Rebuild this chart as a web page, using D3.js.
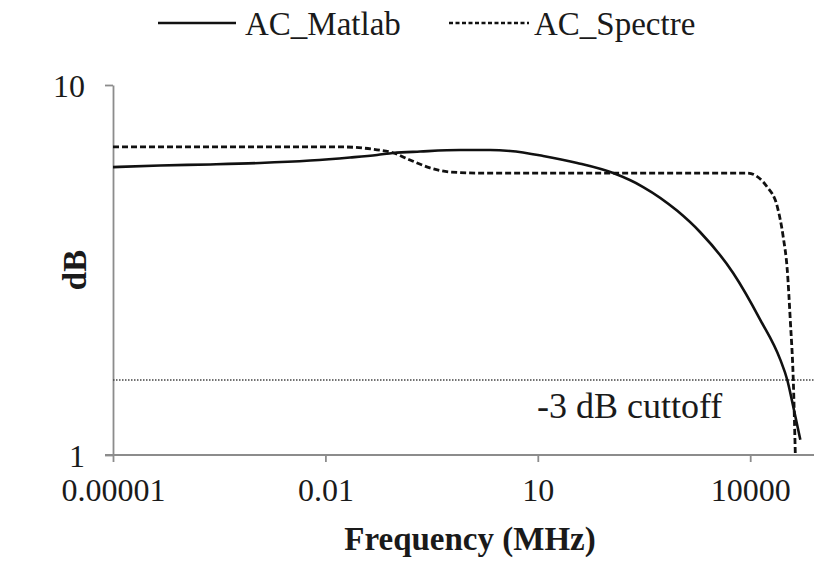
<!DOCTYPE html>
<html>
<head>
<meta charset="utf-8">
<script src="https://cdn.jsdelivr.net/npm/d3@7"></script>
<style>
  body { margin: 0; background: #fff; }
  text { font-family: "Liberation Serif", "Times New Roman", serif; fill: #1a1a1a; }
</style>
</head>
<body>
<div id="container"></div>
<script>
// frequency in MHz, gain in dB
const matlabFreq = [1e-5, 4.61e-5, 2.35e-4, 1.19e-3, 6.08e-3, 0.0223, 0.0537, 0.0903, 0.218, 0.8, 2.12, 4.07, 11.9, 36, 116, 308, 933, 1970, 5770, 13870, 26600, 33400, 40600, 51000];
const matlabGain = [6.00, 6.06, 6.10, 6.155, 6.25, 6.37, 6.47, 6.55, 6.61, 6.67, 6.67, 6.63, 6.43, 6.155, 5.78, 5.30, 4.57, 4.00, 3.10, 2.32, 1.81, 1.595, 1.35, 1.10];

const spectreFreq = [1e-5, 0.0178, 0.0537, 0.0875, 0.157, 0.30, 0.58, 1.53, 10, 100, 1000, 5000, 9100, 17400, 24200, 29300, 33400, 36800, 40600, 43350];
const spectreGain = [6.80, 6.80, 6.68, 6.57, 6.27, 5.97, 5.82, 5.78, 5.78, 5.78, 5.78, 5.78, 5.78, 5.30, 4.68, 3.88, 3.16, 2.32, 1.595, 1.01];

const cutoff = 1.595;
const xTicks = [1e-5, 0.01, 10, 10000];
const xTickLabels = ["0.00001", "0.01", "10", "10000"];
const yTicks = [1, 10];

const width = 814;
const height = 566;

const margin = {top: 85, right: 0, bottom: 111, left: 113};

const x = d3.scaleLog()
    .domain([1e-5, 1e5])
    .range([margin.left, 821]);

const y = d3.scaleLog()
    .domain([1, 10])
    .range([height - margin.bottom, margin.top]);

const svg = d3.create("svg")
    .attr("width", width)
    .attr("height", height);

// x axis
const xAxis = svg.append("g")
    .attr("transform", `translate(0,${y(1)})`)
    .call(d3.axisBottom(x).tickValues(xTicks)
        .tickFormat((d, i) => xTickLabels[i])
        .tickSize(7).tickSizeOuter(0).tickPadding(16));
xAxis.select(".domain").attr("d", `M${margin.left - 8},0H${width}`);

// y axis
const yAxis = svg.append("g")
    .attr("transform", `translate(${margin.left},0)`)
    .call(d3.axisLeft(y).tickValues(yTicks).tickFormat(d3.format("d"))
        .tickSize(8).tickSizeOuter(0).tickPadding(20));

svg.selectAll(".domain, .tick line")
    .attr("stroke", "#8c8c8c")
    .attr("stroke-width", 1.8);
svg.selectAll(".tick text")
    .attr("font-size", 32)
    .attr("font-family", "Liberation Serif")
    .attr("fill", "#1a1a1a");
yAxis.selectAll(".tick text").attr("dy", "0.36em");

// -3 dB cutoff
svg.append("line")
    .attr("x1", margin.left).attr("x2", width)
    .attr("y1", y(cutoff)).attr("y2", y(cutoff))
    .attr("stroke", "#444")
    .attr("stroke-width", 1.6)
    .attr("stroke-dasharray", "1.5,1.5");

svg.append("text")
    .attr("x", 537)
    .attr("y", 418)
    .attr("font-size", 36)
    .text("-3 dB cuttoff");

const line = d3.line()
    .x(d => x(d[0]))
    .y(d => y(d[1]))
    .curve(d3.curveMonotoneX);

svg.append("path")
    .datum(d3.zip(spectreFreq, spectreGain))
    .attr("fill", "none")
    .attr("stroke", "#111")
    .attr("stroke-width", 2.8)
    .attr("stroke-dasharray", "6,3")
    .attr("d", line);

svg.append("path")
    .datum(d3.zip(matlabFreq, matlabGain))
    .attr("fill", "none")
    .attr("stroke", "#111")
    .attr("stroke-width", 2.6)
    .attr("d", line);

// axis titles
svg.append("text")
    .attr("x", 470)
    .attr("y", 550)
    .attr("text-anchor", "middle")
    .attr("font-size", 33)
    .attr("font-weight", "bold")
    .text("Frequency (MHz)");

svg.append("text")
    .attr("transform", "translate(86,270) rotate(-90)")
    .attr("text-anchor", "middle")
    .attr("font-size", 33)
    .attr("font-weight", "bold")
    .text("dB");

// legend
const legend = svg.append("g");
legend.append("line")
    .attr("x1", 158).attr("x2", 236).attr("y1", 23).attr("y2", 23)
    .attr("stroke", "#111").attr("stroke-width", 2.6);
legend.append("text")
    .attr("x", 245).attr("y", 35)
    .attr("font-size", 33)
    .text("AC_Matlab");
legend.append("line")
    .attr("x1", 449).attr("x2", 529).attr("y1", 23).attr("y2", 23)
    .attr("stroke", "#111").attr("stroke-width", 2.6)
    .attr("stroke-dasharray", "4,2.5");
legend.append("text")
    .attr("x", 534).attr("y", 35)
    .attr("font-size", 33)
    .text("AC_Spectre");

container.append(svg.node());
</script>
</body>
</html>
